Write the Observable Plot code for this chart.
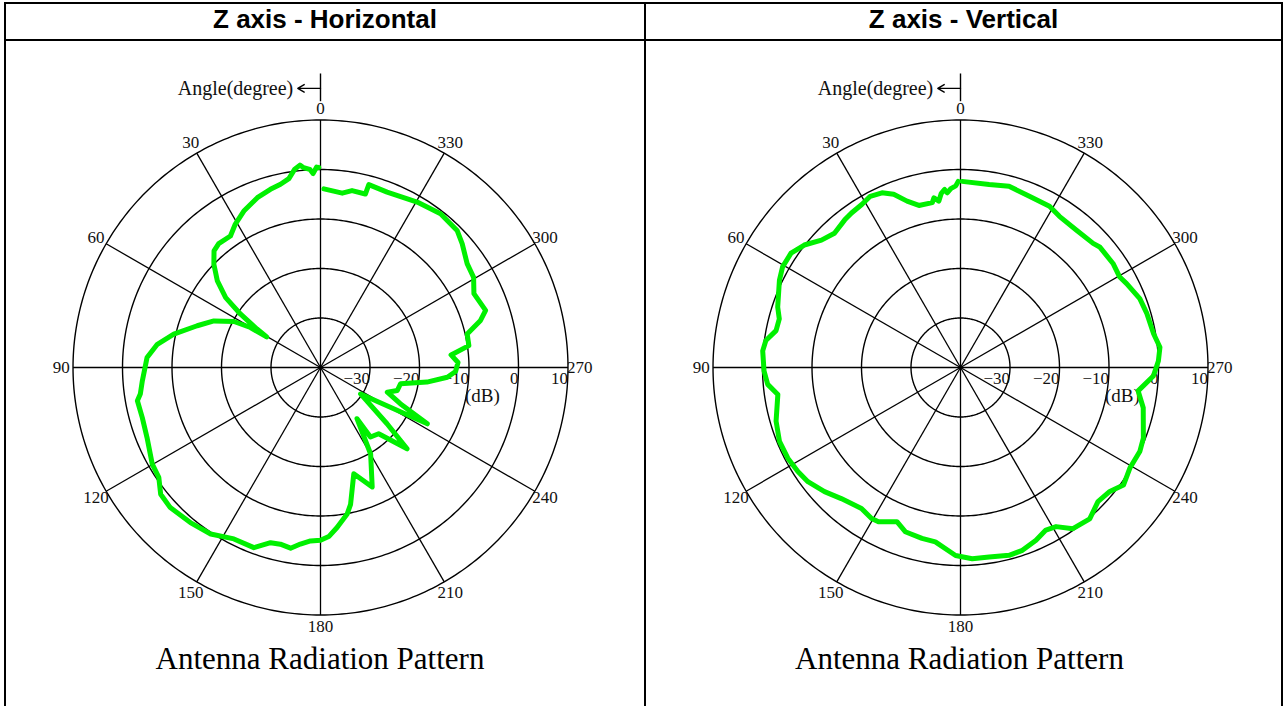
<!DOCTYPE html>
<html>
<head>
<meta charset="utf-8">
<script src="https://cdn.jsdelivr.net/npm/d3@7"></script>
<script src="https://cdn.jsdelivr.net/npm/@observablehq/plot@0.6"></script>
<style>
  body { margin: 0; background: #fff; }
  #page { position: relative; width: 1285px; height: 706px; overflow: hidden; background: #fff; }
  .line { position: absolute; background: #000; z-index: 5; }
  .head { position: absolute; top: 4px; height: 36px; line-height: 38px; text-align: center;
          font: bold 26px "Liberation Sans", Arial, sans-serif; color: #000; }
  .title { position: absolute; top: 641px; width: 500px; text-align: center;
           font: 31px "Liberation Serif", serif; color: #000; }
  .panel { position: absolute; top: 41px; }
</style>
</head>
<body>
<div id="page"></div>
<script>
// ---------------- data ----------------
const panelTitles = ["Z axis - Horizontal", "Z axis - Vertical"];
const chartTitle = "Antenna Radiation Pattern";
const angleTicks = [0, 30, 60, 90, 120, 150, 180, 210, 240, 270, 300, 330];
const ringTicks = [-30, -20, -10, 0, 10];
const ringLabels = ["\u221230", "\u221220", "\u221210", "0", "10"];
const dbMin = -40;

// Z axis - Horizontal (angle in degrees, gain in dB), in measurement order
const horizAngle = [0.5, 1.1, 2.2, 3.1, 4.8, 5.8, 7.4, 9.5, 12.3, 15.7, 20.4, 26.1, 30.7, 34.4, 39.4, 42.4,
  45.9, 50.0, 53.6, 56.3, 58.8, 60.4, 60.3, 62.0, 66.4, 71.3, 77.2, 81.9, 86.7, 94.3, 98.4, 100.3, 105.7,
  112.0, 119.9, 124.2, 128.4, 133.0, 140.0, 146.6, 153.2, 159.7, 164.1, 167.2, 170.6, 173.5, 176.7, 180.0,
  182.8, 185.9, 190.3, 192.4, 197.4, 203.4, 210.1, 215.5, 215.7, 221.3, 226.8, 229.8, 236.6, 242.2, 245.6,
  249.7, 253.3, 258.5, 262.2, 265.6, 268.3, 272.1, 275.5, 278.4, 282.9, 286.4, 289.1, 295.7, 300.5, 305.3,
  311.1, 315.1, 322.0, 329.7, 339.2, 345.2, 345.5, 349.9, 352.9, 358.9];
const horizGain = [0.4, 0.5, -0.8, 0.1, 0.5, 1.1, 0.4, -1.3, -2.1, -2.6, -3.4, -4.8, -6.3, -7.8, -7.6, -8.1,
  -10.0, -12.8, -16.2, -20.6, -25.0, -27.5, -23.7, -20.2, -16.5, -13.7, -9.6, -6.7, -4.9, -3.9, -3.2, -2.4, -2.6,
  -2.2, -0.8, -0.5, 1.2, 1.5, 0.9, 0.3, -1.2, -1.2, -3.2, -3.4, -3.0, -4.1, -4.9, -5.1,
  -5.8, -7.5, -9.9, -11.7, -17.5, -13.7, -19.8, -27.3, -22.7, -22.2, -16.0, -22.4, -30.3, -15.6, -22.3,
  -25.6, -23.8, -23.5, -18.3, -14.3, -12.7, -12.2, -13.5, -9.7, -9.6, -6.3, -4.7, -5.6, -4.1, -3.7,
  -2.0, -0.9, -0.6, -1.3, -2.1, -1.8, -3.8, -3.7, -4.5, -3.9];

// Z axis - Vertical
const vertAngle = [0.7, 1.5, 3.1, 4.3, 5.1, 6.3, 7.4, 8.9, 9.7, 14.4, 17.8, 21.1, 24.2, 27.8, 31.2, 35.2,
  38.1, 43.2, 47.5, 51.9, 56.0, 60.5, 64.3, 71.7, 75.0, 78.7, 82.1, 85.2, 91.0, 95.0, 98.4, 106.2, 112.2,
  117.7, 122.6, 126.8, 132.4, 137.7, 144.9, 149.5, 152.0, 157.6, 161.4, 167.3, 171.8, 178.5, 183.5, 188.6,
  194.5, 198.7, 203.6, 207.7, 211.0, 214.9, 220.5, 225.7, 230.3, 234.2, 239.3, 245.0, 248.9, 254.6, 257.6,
  262.5, 267.5, 271.9, 275.8, 279.9, 286.1, 291.0, 296.8, 299.6, 304.3, 310.9, 313.1, 319.9, 326.8, 331.1,
  338.1, 345.0, 351.1, 359.5];
const vertGain = [-2.4, -3.3, -3.8, -4.6, -3.9, -4.6, -6.1, -5.3, -6.2, -6.2, -4.7, -2.5, -1.3, -0.9, -1.5, -1.8,
  -2.1, -2.8, -1.9, 0.1, 1.3, 1.3, 0.6, -1.1, -2.1, -2.0, -0.3, 0.1, -0.3, -0.9, -2.7, -1.2, -0.5,
  -0.6, -1.0, -1.5, -2.8, -4.2, -5.2, -4.6, -4.7, -6.3, -5.0, -4.6, -4.4, -2.0, -1.3, -1.3,
  -0.8, -1.0, -1.9, -2.9, -2.5, -0.3, 0.2, -1.2, -0.8, 0.6, -0.2, 0.0, -0.4, -1.7, -2.2,
  -3.8, -1.0, 0.0, 0.5, -0.4, -0.8, -1.2, -2.4, -3.0, -2.7, -2.8, -3.3, -3.7, -3.5, -2.8,
  -2.7, -2.1, -2.6, -2.4];

// ---------------- helpers ----------------
const rad = a => a * Math.PI / 180;
const px = (a, g) => -(g - dbMin) * Math.sin(rad(a));
const py = (a, g) => (g - dbMin) * Math.cos(rad(a));
const serif = "Liberation Serif";

const ringPoints = ringTicks.flatMap(g => d3.range(0, 361, 1).map(a => ({ring: g, a, g})));

function polarChart(angles, gains) {
  const pts = angles.map((a, i) => ({a, g: gains[i]}));
  const labelDb = 12.4;
  const outer = ringTicks[ringTicks.length - 1];
  return Plot.plot({
    width: 640,
    height: 652,
    margin: 0,
    x: {domain: [-64.65, 64.65], axis: null},
    y: {domain: [-65.86, 65.86], axis: null},
    style: {background: "transparent", overflow: "visible"},
    marks: [
      Plot.line(ringPoints, {x: d => px(d.a, d.g), y: d => py(d.a, d.g), z: "ring", stroke: "#000", strokeWidth: 1.4}),
      Plot.link(angleTicks, {x1: () => 0, y1: () => 0, x2: a => px(a, outer), y2: a => py(a, outer),
        stroke: "#000", strokeWidth: 1.3}),
      Plot.text(angleTicks, {x: a => px(a, labelDb), y: a => py(a, labelDb), text: a => String(a),
        fontFamily: serif, fontSize: 17, fill: "#111"}),
      Plot.text(ringTicks, {x: g => g - dbMin, y: () => 0, text: (g, i) => ringLabels[i], textAnchor: "end",
        dx: 0, dy: 11, fontFamily: serif, fontSize: 17, fill: "#111"}),
      Plot.text(["(dB)"], {x: () => 32.7, y: () => 0, text: d => d, dy: 28, fontFamily: serif, fontSize: 19, fill: "#111"}),
      Plot.text(["Angle(degree)"], {x: () => -5.5, y: () => 56.4, text: d => d, textAnchor: "end",
        fontFamily: serif, fontSize: 20, fill: "#111"}),
      Plot.arrow([0], {x1: () => 0, y1: () => 56.4, x2: () => -4.6, y2: () => 56.4, headLength: 8,
        stroke: "#000", strokeWidth: 1.4}),
      Plot.link([0], {x1: () => 0, x2: () => 0, y1: () => 53.8, y2: () => 59.4, stroke: "#000", strokeWidth: 1.4}),
      Plot.line(pts, {x: d => px(d.a, d.g), y: d => py(d.a, d.g), stroke: "#00f000", strokeWidth: 5,
        strokeLinejoin: "round", strokeLinecap: "round"})
    ]
  });
}

// ---------------- layout ----------------
const page = document.getElementById("page");
const centers = [320, 959.5];
const cells = [[5, 645], [645, 1282]];

panelTitles.forEach((t, i) => {
  const h = document.createElement("div");
  h.className = "head";
  h.style.left = cells[i][0] + "px";
  h.style.width = (cells[i][1] - cells[i][0]) + "px";
  h.textContent = t;
  page.appendChild(h);

  const p = document.createElement("div");
  p.className = "panel";
  p.style.left = (centers[i] - 320) + "px";
  p.appendChild(i === 0 ? polarChart(horizAngle, horizGain) : polarChart(vertAngle, vertGain));
  page.appendChild(p);

  const tt = document.createElement("div");
  tt.className = "title";
  tt.style.left = (centers[i] - 250) + "px";
  tt.textContent = chartTitle;
  page.appendChild(tt);
});

const lines = [
  {left: 4, top: 2, width: 1279, height: 2},
  {left: 4, top: 39, width: 1279, height: 2},
  {left: 4, top: 2, width: 2, height: 704},
  {left: 644, top: 2, width: 2, height: 704},
  {left: 1281, top: 2, width: 2, height: 704}
];
lines.forEach(l => {
  const d = document.createElement("div");
  d.className = "line";
  Object.entries(l).forEach(([k, v]) => d.style[k] = v + "px");
  page.appendChild(d);
});
</script>
</body>
</html>
